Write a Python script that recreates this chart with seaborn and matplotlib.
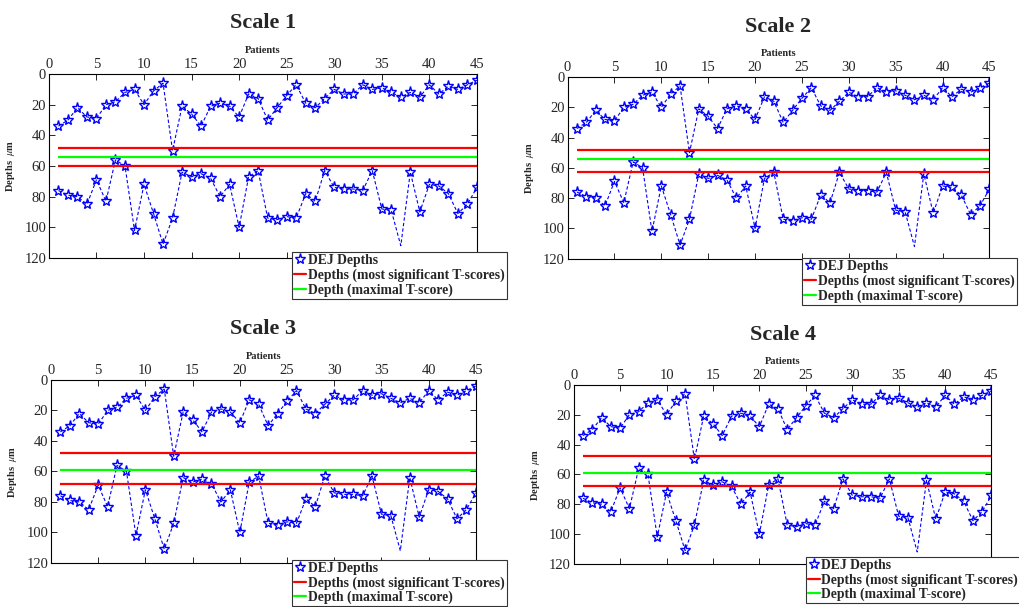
"""DEJ depths per patient, four scales, MATLAB-like layout."""

import numpy as np
import pandas as pd
import matplotlib
matplotlib.use("Agg")
import matplotlib.pyplot as plt
from matplotlib.lines import Line2D
import seaborn as sns

# данные
patients = list(range(1, 46))
dej_upper = [34, 30, 22, 28, 29, 20, 18, 12, 10, 20, 11, 6, 50, 21, 26, 34, 21, 19, 21, 28,
             13, 16, 30, 22, 14, 7, 19, 22, 16, 10, 13, 13, 7, 10, 9, 12, 15, 12, 15, 7,
             13, 8, 10, 7, 4]
dej_lower = [76, 79, 80, 85, 69, 83, 56, 60, 102, 72, 91, 111, 94, 64, 67, 65, 68, 80, 72, 100,
             67, 63, 94, 95, 93, 94, 78, 83, 63, 74, 75, 75, 76, 63, 88, 89, 112, 64, 90, 72,
             73, 78, 91, 85, 74]
scale_titles = ["Scale 1", "Scale 2", "Scale 3", "Scale 4"]
red_depths = [(48, 60), (48, 63), (48, 68), (48, 68)]
green_depths = [54, 54, 59, 59]
legend_labels = ["DEJ Depths", "Depths (most significant T-scores)", "Depth (maximal T-score)"]

sns.set_style("white")
plt.rcParams["font.family"] = ["Liberation Serif", "DejaVu Serif"]
plt.rcParams["mathtext.fontset"] = "stix"

# позиции осей (в долях фигуры) и левый верхний угол легенды
axes_rects = [
    [0.048, 0.575, 0.420, 0.303],
    [0.557, 0.574, 0.414, 0.299],
    [0.050, 0.0725, 0.417, 0.3015],
    [0.563, 0.071, 0.410, 0.295],
]
legend_anchors = [(0.2866, 0.585), (0.787, 0.575), (0.2866, 0.078), (0.7905, 0.083)]

fig = plt.figure(figsize=(10.19, 6.07), dpi=100)

df = pd.DataFrame({"patient": patients, "upper": dej_upper, "lower": dej_lower})
# у пациента 37 нижняя точка без маркера
mark_idx = [i for i, p in enumerate(patients) if p != 37]

line_kw = dict(color="blue", linestyle=(0, (3, 2)), linewidth=0.8,
               marker="*", markersize=8, markerfacecolor="none",
               markeredgecolor="blue", markeredgewidth=1.0)

for i in range(4):
    ax = fig.add_axes(axes_rects[i])
    sns.lineplot(data=df, x="patient", y="upper", ax=ax, errorbar=None, sort=False, **line_kw)
    sns.lineplot(data=df, x="patient", y="lower", ax=ax, errorbar=None, sort=False,
                 markevery=mark_idx, **line_kw)
    ax.hlines(list(red_depths[i]), patients[0], patients[-1], colors="red", linewidth=1.6)
    ax.hlines(green_depths[i], patients[0], patients[-1], colors="#00ff00", linewidth=1.6)

    ax.set_xlim(0, 45)
    ax.set_ylim(120, 0)
    ax.set_xticks(np.arange(0, 46, 5))
    ax.set_yticks(np.arange(0, 121, 20))
    ax.xaxis.set_label_position("top")
    ax.tick_params(direction="in", length=4, width=0.7, top=True, bottom=True,
                   left=True, right=True, labeltop=True, labelbottom=False,
                   labelsize=10.5, pad=2)
    for sp in ax.spines.values():
        sp.set_color("black")
        sp.set_linewidth(0.8)
    ax.set_xlabel("Patients", fontsize=7.5, fontweight="bold", labelpad=4)
    ax.set_ylabel(r"Depths  $\mu$m", fontsize=7.5, fontweight="bold", labelpad=5)
    ax.set_title(scale_titles[i], fontsize=16, fontweight="bold", y=1.25, pad=0)

    handles = [
        Line2D([], [], color="blue", linestyle="none", marker="*", markersize=8,
               markerfacecolor="none", markeredgecolor="blue", markeredgewidth=1.0),
        Line2D([], [], color="red", linewidth=1.6),
        Line2D([], [], color="#00ff00", linewidth=1.6),
    ]
    leg = ax.legend(handles, legend_labels, loc="upper left",
                    bbox_to_anchor=legend_anchors[i], bbox_transform=fig.transFigure,
                    prop={"weight": "bold", "size": 9.8}, handlelength=0.9,
                    handletextpad=0.12, labelspacing=0.1, borderpad=0.15,
                    borderaxespad=0, fancybox=False, framealpha=1)
    leg.get_frame().set_edgecolor("#333333")
    leg.get_frame().set_linewidth(0.8)

fig.savefig("out.png", dpi=100)
